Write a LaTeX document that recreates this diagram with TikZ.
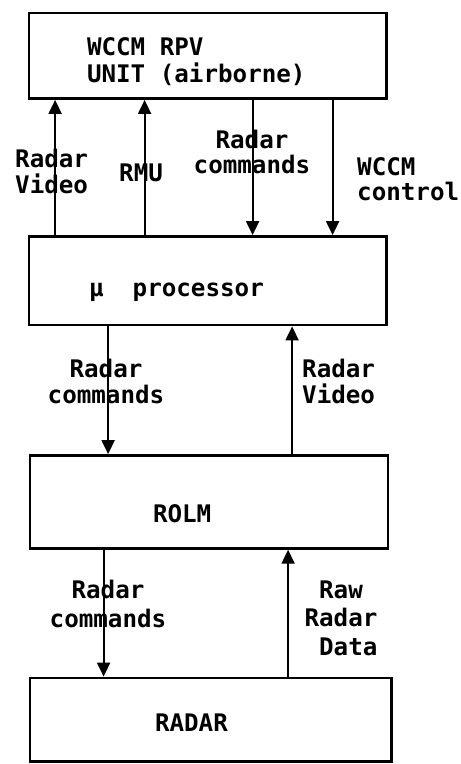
\documentclass[tikz,border=0pt]{standalone}
\usepackage{fontspec}
\usetikzlibrary{arrows.meta}
\newfontfamily\tw{DejaVu Sans Mono}
\newcommand\twf{\tw\bfseries\fontsize{24.2}{26}\selectfont}
% multi-line blocks whose baseline is the first line's baseline
\newcommand\Lft[2]{\vtop{\baselineskip=#1\lineskiplimit=-50pt\halign{##\hfil\cr#2\crcr}}}
\newcommand\Ctr[2]{\vtop{\baselineskip=#1\lineskiplimit=-50pt\halign{\hfil##\hfil\cr#2\crcr}}}
% text placed relative to the centre of a box node
\newcommand\inbox[3]{\makebox[0pt][l]{\hspace*{#1}\raisebox{#2}[0pt][0pt]{#3}}}
\begin{document}
\begin{tikzpicture}[x=1pt,y=-1pt,font=\twf,
  blk/.style={draw, line width=2.8pt, inner sep=0pt},
  lbl/.style={inner sep=0pt},
  arr/.style={line width=2pt, -{Triangle[width=13pt,length=14pt]}}]
\useasboundingbox[fill=white] (0,0) rectangle (461,764);

% boxes
\node[blk, minimum width=357.5pt, minimum height=85.5pt] (wccm) at (207.75,55.75)
  {\inbox{-120.75pt}{0.75pt}{\Lft{27pt}{WCCM RPV\cr UNIT (airborne)}}};
\node[blk, minimum width=357.5pt, minimum height=88.5pt] (proc) at (207.75,280.75)
  {\inbox{-118.75pt}{-15.75pt}{μ~~processor}};
\node[blk, minimum width=358pt, minimum height=92.8pt] (rolm) at (209,501.9)
  {\inbox{-56pt}{-20.8pt}{ROLM}};
\node[blk, minimum width=361.5pt, minimum height=83.5pt] (radar) at (210.75,719.75)
  {\inbox{-55.75pt}{-12pt}{RADAR}};

% connectors between WCCM unit and processor
\draw[arr] ([xshift=27.5pt]proc.north west) coordinate (a1) -- (a1 |- wccm.south);
\draw[arr] ([xshift=117pt]proc.north west) coordinate (a2) -- (a2 |- wccm.south);
\draw[arr] ([xshift=225pt]wccm.south west) coordinate (a3) -- (a3 |- proc.north);
\draw[arr] ([xshift=305pt]wccm.south west) coordinate (a4) -- (a4 |- proc.north);
% processor <-> ROLM
\draw[arr] ([xshift=80.5pt]proc.south west) coordinate (b1) -- (b1 |- rolm.north);
\draw[arr] ([xshift=263.5pt]rolm.north west) coordinate (b2) -- (b2 |- proc.south);
% ROLM <-> RADAR
\draw[arr] ([xshift=75pt]rolm.south west) coordinate (c1) -- (c1 |- radar.north);
\draw[arr] ([xshift=259.5pt]radar.north west) coordinate (c2) -- (c2 |- rolm.south);

% labels
\node[lbl, anchor=base west] (la) at (15,167) {\Lft{26pt}{Radar\cr Video}};
\node[lbl, anchor=base west] (lb) at (119,181) {RMU};
\node[lbl, anchor=base] (lc) at (252,148) {\Ctr{25pt}{Radar\cr commands}};
\node[lbl, anchor=base west] (ld) at (357,175) {\Lft{25pt}{WCCM\cr control}};
\node[lbl, anchor=base] (le) at (106,377) {\Ctr{26pt}{Radar\cr commands}};
\node[lbl, anchor=base west] (lf) at (302,377) {\Lft{26pt}{Radar\cr Video}};
\node[lbl, anchor=base] (lg) at (108,598) {\Ctr{29pt}{Radar\cr commands}};
\node[lbl, anchor=base] (lh) at (341,598) {\Ctr{28.5pt}{Raw\cr Radar\cr \hphantom{x}Data}};
\end{tikzpicture}
\end{document}
